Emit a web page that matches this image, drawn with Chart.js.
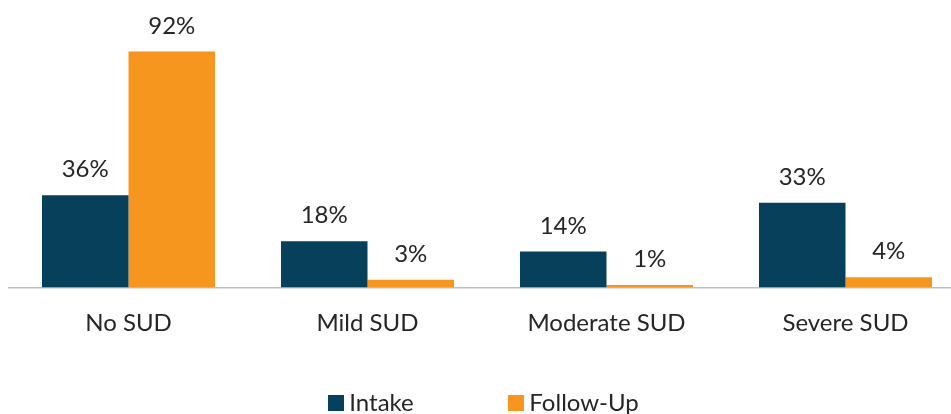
<!DOCTYPE html>
<html><head><meta charset="utf-8">
<script src="https://cdn.jsdelivr.net/npm/chart.js@4"></script>
<style>html,body{margin:0;padding:0;overflow:hidden;background:#fff}canvas{display:block}</style>
</head><body>
<canvas id="c" width="966" height="425"></canvas>
<script>
const categories = ['No SUD', 'Mild SUD', 'Moderate SUD', 'Severe SUD'];
const intakeValues = [36, 18, 14, 33];
const followUpValues = [92, 3, 1, 4];
const seriesNames = ['Intake', 'Follow-Up'];
const seriesColors = ['#06405A', '#F7961E'];

const FONT = 'Lato';
const FSIZE = 24;
const TEXT = '#262626';

function swatch(color) {
  const c = document.createElement('canvas');
  c.width = 16; c.height = 16;
  const g = c.getContext('2d');
  g.fillStyle = color; g.fillRect(0, 0, 16, 16);
  return c;
}

const valueLabels = {
  id: 'valueLabels',
  afterDatasetsDraw(chart) {
    const ctx = chart.ctx;
    ctx.save();
    ctx.font = FSIZE + 'px ' + FONT;
    ctx.fillStyle = TEXT;
    ctx.textAlign = 'center';
    ctx.textBaseline = 'alphabetic';
    chart.data.datasets.forEach((ds, i) => {
      chart.getDatasetMeta(i).data.forEach((bar, j) => {
        ctx.fillText(ds.data[j] + '%', bar.x, bar.y - 18);
      });
    });
    ctx.restore();
  }
};

new Chart(document.getElementById('c'), {
  type: 'bar',
  data: {
    labels: categories,
    datasets: [
      { label: seriesNames[0], data: intakeValues, backgroundColor: seriesColors[0] },
      { label: seriesNames[1], data: followUpValues, backgroundColor: seriesColors[1] }
    ]
  },
  options: {
    responsive: false,
    devicePixelRatio: 1,
    animation: false,
    layout: { padding: { top: 31, left: 9, right: 1, bottom: 0 } },
    datasets: { bar: { categoryPercentage: 0.724, barPercentage: 1.0 } },
    scales: {
      x: {
        grid: { display: false, drawTicks: false },
        border: { display: true, color: '#BFBFBF', width: 1.5 },
        ticks: { color: TEXT, font: { family: FONT, size: FSIZE }, padding: 21 },
        afterFit(scale) { scale.height = 93.5; }
      },
      y: { display: false, min: 0, max: 100 }
    },
    plugins: {
      tooltip: { enabled: false },
      legend: {
        position: 'bottom',
        labels: {
          color: TEXT,
          font: { family: FONT, size: FSIZE },
          usePointStyle: true,
          pointStyleWidth: 2,
          boxHeight: 16,
          padding: 10,
          generateLabels(chart) {
            const ctx = chart.ctx;
            ctx.save();
            ctx.font = FSIZE + 'px ' + FONT;
            const sp = ctx.measureText(' ').width;
            ctx.restore();
            const n = Math.max(1, Math.round(66 / sp));
            const items = chart.data.datasets.map((ds, i) => ({
              text: ds.label,
              fillStyle: ds.backgroundColor,
              strokeStyle: 'rgba(0,0,0,0)',
              lineWidth: 0,
              pointStyle: swatch(ds.backgroundColor),
              hidden: false,
              datasetIndex: i,
              fontColor: TEXT
            }));
            items.splice(1, 0, {
              text: ' '.repeat(n),
              fillStyle: 'rgba(0,0,0,0)',
              strokeStyle: 'rgba(0,0,0,0)',
              lineWidth: 0,
              pointStyle: 'circle',
              hidden: false,
              datasetIndex: -1,
              fontColor: TEXT
            });
            return items;
          }
        }
      }
    }
  },
  plugins: [valueLabels]
});
</script>
</body></html>
